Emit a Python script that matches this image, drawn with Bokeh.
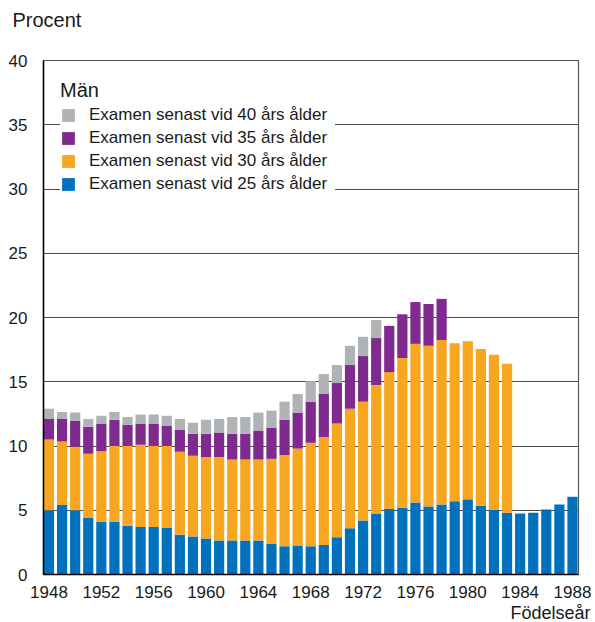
import numpy as np
from bokeh.plotting import figure
from bokeh.models import (ColumnDataSource, FixedTicker, Legend, LegendItem, Title,
                          Range1d)
from bokeh.embed import file_html
from bokeh.resources import INLINE

nan = np.nan

years = list(range(1948, 1989))

# Cumulative share (%) of men with a degree by a given age, by birth year
by_age_25 = [5.0, 5.4, 5.0, 4.4, 4.1, 4.1, 3.8, 3.7, 3.7, 3.65,
             3.1, 2.95, 2.8, 2.65, 2.65, 2.65, 2.65, 2.4, 2.2, 2.25,
             2.2, 2.3, 2.9, 3.6, 4.2, 4.75, 5.1, 5.2, 5.6, 5.3,
             5.45, 5.7, 5.85, 5.35, 5.05, 4.8, 4.75, 4.8, 5.05, 5.45,
             6.05]
by_age_30 = [10.5, 10.35, 9.95, 9.4, 9.6, 10.0, 10.0, 10.1, 10.0, 10.0,
             9.55, 9.25, 9.15, 9.15, 8.95, 8.95, 8.95, 9.0, 9.3, 9.8,
             10.25, 10.7, 11.75, 12.9, 13.45, 14.75, 15.75, 16.85, 17.95, 17.8,
             18.25, 18.0, 18.15, 17.55, 17.1, 16.4, nan, nan, nan, nan,
             nan]
by_age_35 = [12.1, 12.1, 11.95, 11.5, 11.75, 12.05, 11.65, 11.75, 11.75, 11.55,
             11.25, 10.95, 10.95, 11.05, 10.95, 10.95, 11.2, 11.4, 12.05, 12.6,
             13.45, 14.05, 14.9, 16.3, 17.0, 18.4, 19.35, 20.25, 21.2, 21.05,
             21.45, nan, nan, nan, nan, nan, nan, nan, nan, nan,
             nan]
by_age_40 = [12.9, 12.65, 12.6, 12.1, 12.35, 12.65, 12.25, 12.45, 12.45, 12.35,
             12.1, 11.8, 12.05, 12.1, 12.25, 12.25, 12.6, 12.75, 13.45, 14.05,
             15.05, 15.6, 16.3, 17.8, 18.5, 19.8, nan, nan, nan, nan,
             nan, nan, nan, nan, nan, nan, nan, nan, nan, nan,
             nan]

series_labels = ["Examen senast vid 25 års ålder",
                 "Examen senast vid 30 års ålder",
                 "Examen senast vid 35 års ålder",
                 "Examen senast vid 40 års ålder"]
series_colors = ["#0071bc", "#f8a51f", "#7f2a8e", "#b0b3b6"]

x_ticks = list(range(1948, 1989, 4))
y_ticks = list(range(0, 41, 5))

FONT = "Liberation Sans"
TXT = "#1a1a1a"

p = figure(width=595, height=622, output_backend="svg", toolbar_location=None,
           title=None,
           x_range=Range1d(1947.58, 1988.46), y_range=Range1d(0, 40),
           min_border_left=43, min_border_right=17, min_border_top=60,
           min_border_bottom=47)
p.background_fill_color = "white"
p.border_fill_color = "white"
p.outline_line_color = "#555555"
p.outline_line_width = 1.2

series = [by_age_25, by_age_30, by_age_35, by_age_40]
zeros = [0.0] * len(years)
renderers = []
for i, (vals, col) in enumerate(zip(series, series_colors)):
    bottom = zeros if i == 0 else series[i - 1]
    src = ColumnDataSource(dict(x=years, top=vals, bottom=bottom))
    r = p.vbar(x="x", top="top", bottom="bottom", width=0.78, source=src,
               fill_color=col, line_color=None)
    renderers.append(r)

# Axes
p.xaxis.ticker = FixedTicker(ticks=x_ticks)
p.yaxis.ticker = FixedTicker(ticks=y_ticks)
for ax in (p.xaxis, p.yaxis):
    ax.major_tick_line_color = None
    ax.minor_tick_line_color = None
    ax.axis_line_color = "black"
    ax.axis_line_width = 1.5
    ax.major_label_text_font = FONT
    ax.major_label_text_font_size = "17px"
    ax.major_label_text_color = TXT
p.xaxis.major_label_standoff = 5
p.yaxis.major_label_standoff = 10

p.xgrid.grid_line_color = None
p.ygrid.ticker = FixedTicker(ticks=y_ticks)
p.ygrid.grid_line_color = "#4d4d4d"
p.ygrid.grid_line_width = 1.2

# Legend
items = [LegendItem(label=series_labels[i], renderers=[renderers[i]]) for i in (3, 2, 1, 0)]
legend = Legend(items=items, location=(17, 380), title="Män",
                title_text_font=FONT, title_text_font_size="20px",
                title_text_font_style="normal", title_text_color=TXT,
                title_standoff=3,
                label_text_font=FONT, label_text_font_size="17px",
                label_text_color=TXT,
                glyph_width=16, glyph_height=16, label_height=20,
                label_width=246, label_standoff=13, spacing=3,
                padding=10, margin=0,
                background_fill_color="white", background_fill_alpha=1.0,
                border_line_color=None)
p.add_layout(legend)

# Spacer between frame and the "Procent" heading, then the heading itself
p.add_layout(Title(text=" ", text_font_size="1px", standoff=27), "above")
p.add_layout(Title(text="Procent", align="left", offset=-31, standoff=0,
                   text_font=FONT, text_font_size="20px",
                   text_font_style="normal", text_color=TXT), "above")

p.add_layout(Title(text="Födelseår", align="right", offset=-12, standoff=0,
                   text_font=FONT, text_font_size="18px",
                   text_font_style="normal", text_color=TXT), "below")

open("out.html", "w").write(file_html(p, INLINE))
